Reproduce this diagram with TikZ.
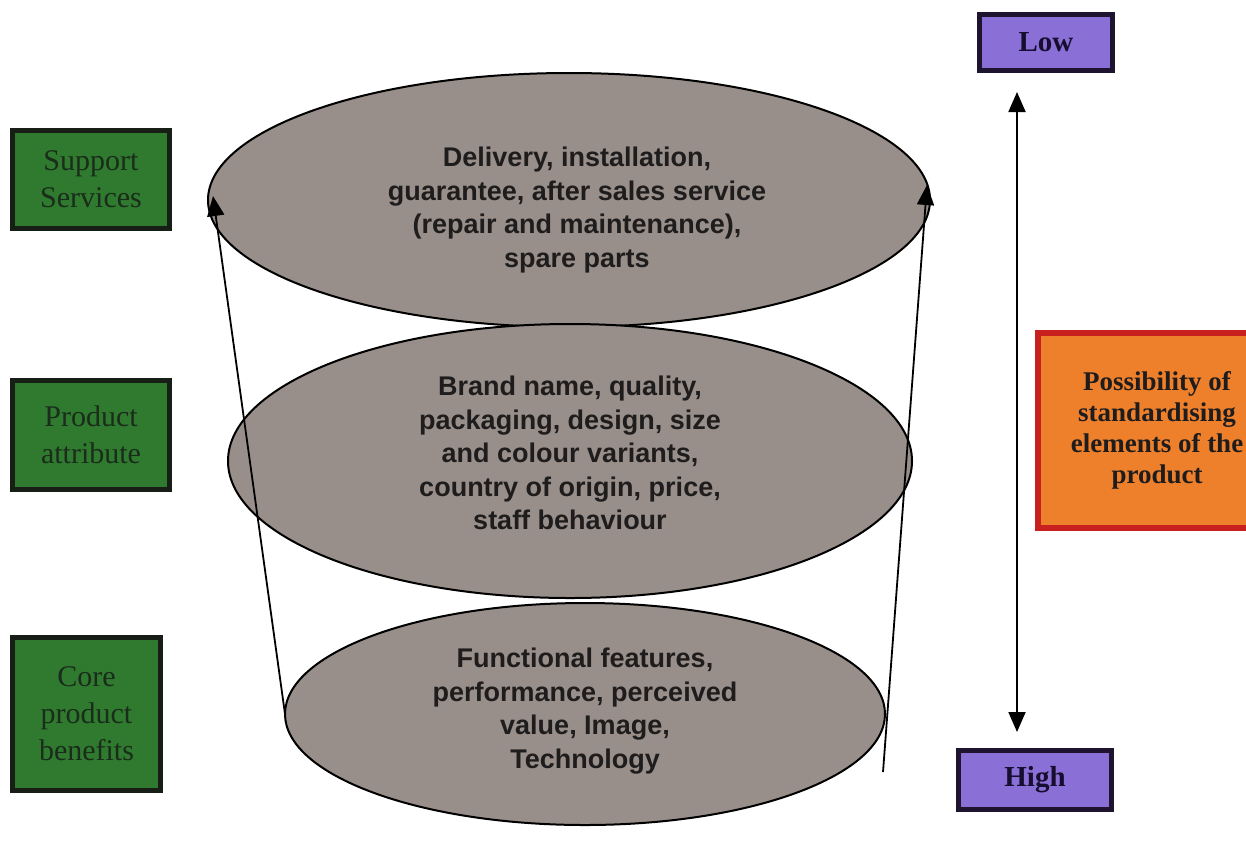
\documentclass[tikz,border=0pt]{standalone}
\usepackage{fontspec}
\setmainfont{Liberation Serif}
\newfontfamily\arialf{Liberation Sans}
\usetikzlibrary{shapes.geometric,arrows.meta}
\definecolor{ellfill}{RGB}{152,143,138}
\definecolor{greenfill}{RGB}{48,122,48}
\definecolor{greenline}{RGB}{22,30,22}
\definecolor{greentext}{RGB}{26,44,26}
\definecolor{purplefill}{RGB}{138,112,214}
\definecolor{purpleline}{RGB}{30,20,48}
\definecolor{purpletext}{RGB}{22,14,48}
\definecolor{orangefill}{RGB}{238,128,44}
\definecolor{orangeline}{RGB}{200,32,30}
\definecolor{darktext}{RGB}{30,28,28}
\tikzset{
  ell/.style={ellipse, draw=black, line width=2pt, fill=ellfill, inner sep=0pt, outer sep=0pt},
  elltext/.style={font=\arialf\bfseries\fontsize{27}{33.5}\selectfont, text=darktext, align=center, inner sep=0pt},
  greenbox/.style={rectangle, draw=greenline, line width=5pt, fill=greenfill, text=greentext,
    font=\fontsize{30}{37}\selectfont, align=center, inner sep=0pt, outer sep=0pt},
  purplebox/.style={rectangle, draw=purpleline, line width=5pt, fill=purplefill, text=purpletext,
    font=\bfseries\fontsize{29}{34}\selectfont, align=center, inner sep=0pt, outer sep=0pt},
  orangebox/.style={rectangle, draw=orangeline, line width=6pt, fill=orangefill, text=darktext,
    font=\bfseries\fontsize{27}{31}\selectfont, align=center, inner sep=0pt, outer sep=0pt},
  arr/.style={line width=1.8pt, -{Triangle[length=20pt,width=17pt]}},
  dblarr/.style={line width=1.8pt, {Triangle[length=20pt,width=17pt]}-{Triangle[length=20pt,width=17pt]}}
}
\begin{document}
\begin{tikzpicture}[x=1pt,y=-1pt]
\useasboundingbox (0,0) rectangle (1246,847);
\clip (0,0) rectangle (1246,847);
% ellipses
\node[ell, minimum width=722pt, minimum height=254pt] (top) at (569,200) {};
\node[ell, minimum width=684pt, minimum height=274pt] (mid) at (570,461) {};
\node[ell, minimum width=600pt, minimum height=222pt] (bot) at (585,714) {};
\node[elltext] (toptext) at (577,210) {Delivery, installation,\\guarantee, after sales service\\(repair and maintenance),\\spare parts};
\node[elltext] (midtext) at (570,453) {Brand name, quality,\\packaging, design, size\\and colour variants,\\country of origin, price,\\staff behaviour};
\node[elltext] (bottext) at (585,711) {Functional features,\\performance, perceived\\value, Image,\\Technology};
% green boxes
\node[greenbox, minimum width=157pt, minimum height=98pt] (support) at (91,179.5) {Support\\Services};
\node[greenbox, minimum width=157pt, minimum height=109pt] (attr) at (91,435) {Product\\attribute};
\node[greenbox, minimum width=148pt, minimum height=153pt] (core) at (86.5,714) {Core\\product\\benefits};
% right side
\node[purplebox, minimum width=133pt, minimum height=56pt] (low) at (1046,42.5) {Low};
\node[purplebox, minimum width=153pt, minimum height=59pt] (high) at (1035,780) {High};
\node[orangebox, minimum width=238pt, minimum height=195pt] (poss) at (1157,430.5) {Possibility of\\standardising\\elements of the\\product};
% arrows
\coordinate (ltip) at (213,196);
\coordinate (rbase) at (883,772);
\coordinate (rtip) at (927,185);
\coordinate (vtop) at (1017,92);
\coordinate (vbot) at (1017,732);
\draw[arr] (bot.west) -- (ltip);
\draw[arr] (rbase) -- (rtip);
\draw[dblarr] (vbot) -- (vtop);
\end{tikzpicture}
\end{document}
